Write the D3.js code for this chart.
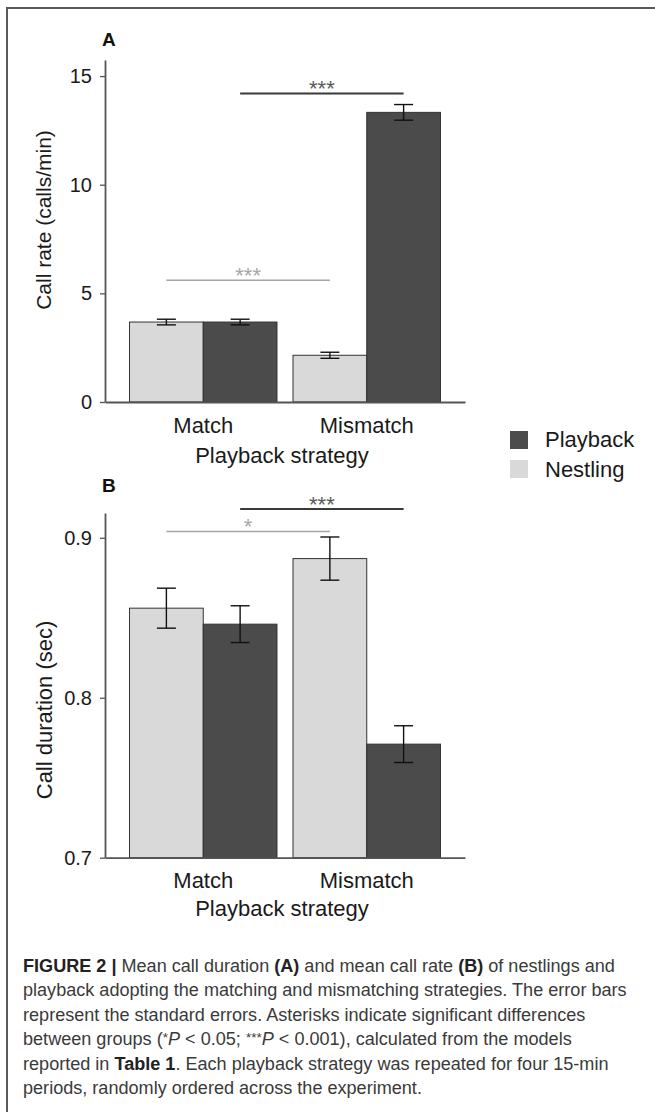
<!DOCTYPE html>
<html>
<head>
<meta charset="utf-8">
<script src="https://cdn.jsdelivr.net/npm/d3@7"></script>
<style>
  html, body { margin: 0; padding: 0; background: #fff; }
  svg { display: block; font-family: "Liberation Sans", Arial, sans-serif; }
</style>
</head>
<body>
<svg id="fig" width="655" height="1112"></svg>
<script>
// ---- data ----
const strategies = ["Match", "Mismatch"];
const sources = ["Nestling", "Playback"];
const legendOrder = ["Playback", "Nestling"];

// Panel A: call rate (calls/min), mean and standard error
const rateNestling = [3.68, 2.15];
const rateNestlingSE = [0.13, 0.14];
const ratePlayback = [3.68, 13.33];
const ratePlaybackSE = [0.13, 0.36];
const rateTicks = [0, 5, 10, 15];

// Panel B: call duration (sec), mean and standard error
const durNestling = [0.856, 0.887];
const durNestlingSE = [0.0125, 0.0135];
const durPlayback = [0.846, 0.771];
const durPlaybackSE = [0.0115, 0.0115];
const durTicks = [0.7, 0.8, 0.9];

// Significance brackets: which source is compared across strategies, label and height
const sigSourceA = ["Playback", "Nestling"];
const sigLevelA = [14.2, 5.6];
const sigLabelA = ["***", "***"];
const sigSourceB = ["Playback", "Nestling"];
const sigLevelB = [0.918, 0.904];
const sigLabelB = ["***", "*"];

// ---- drawing ----
const svg = d3.select("#fig");
svg.append("rect").attr("width", 655).attr("height", 1112).attr("fill", "#fff");

const fillOf = { Nestling: "#d9d9d9", Playback: "#4b4b4b" };
const sigColor = { Playback: "#3a3a3a", Nestling: "#a3a3a3" };
const sigText = { Playback: "#5a5a5a", Nestling: "#a8a8a8" };

// frame around the figure
svg.append("path")
  .attr("d", "M7,1112V8H655")
  .attr("fill", "none").attr("stroke", "#5a5a5a").attr("stroke-width", 2);

const axisX0 = 105, axisX1 = 465;

function panel(opts) {
  const g = svg.append("g");
  const x = d3.scaleBand().domain(strategies).range([axisX0, axisX1])
    .paddingInner(0.098).paddingOuter(0.15);
  const xs = d3.scaleBand().domain(sources).range([0, x.bandwidth()]);
  const y = d3.scaleLinear().domain(opts.domain).range(opts.range);

  const rows = [];
  strategies.forEach((s, i) => {
    rows.push({ strat: s, src: "Nestling", v: opts.nest[i], se: opts.nestSE[i] });
    rows.push({ strat: s, src: "Playback", v: opts.play[i], se: opts.playSE[i] });
  });

  // bars
  g.selectAll("rect.bar").data(rows).join("rect")
    .attr("class", "bar")
    .attr("x", d => x(d.strat) + xs(d.src))
    .attr("width", xs.bandwidth())
    .attr("y", d => y(d.v))
    .attr("height", d => y(opts.domain[0]) - y(d.v))
    .attr("fill", d => fillOf[d.src])
    .attr("stroke", "#333").attr("stroke-width", 1);

  // error bars
  const eb = g.selectAll("g.err").data(rows).join("g").attr("class", "err")
    .attr("stroke", "#111").attr("stroke-width", 1.4);
  const cx = d => x(d.strat) + xs(d.src) + xs.bandwidth() / 2;
  eb.append("line").attr("x1", cx).attr("x2", cx)
    .attr("y1", d => y(d.v - d.se)).attr("y2", d => y(d.v + d.se));
  eb.append("line").attr("x1", d => cx(d) - 9.5).attr("x2", d => cx(d) + 9.5)
    .attr("y1", d => y(d.v + d.se)).attr("y2", d => y(d.v + d.se));
  eb.append("line").attr("x1", d => cx(d) - 9.5).attr("x2", d => cx(d) + 9.5)
    .attr("y1", d => y(d.v - d.se)).attr("y2", d => y(d.v - d.se));

  // y axis
  const ya = g.append("g").attr("transform", `translate(${axisX0},0)`)
    .call(d3.axisLeft(y).tickValues(opts.ticks).tickSize(5).tickSizeOuter(0)
      .tickPadding(8).tickFormat(opts.fmt));
  ya.select(".domain").attr("stroke", "#555").attr("stroke-width", 1.8);
  ya.selectAll(".tick line").attr("stroke", "#555").attr("stroke-width", 1.3);
  ya.selectAll(".tick text").attr("fill", "#1a1a1a")
    .style("font-size", "20px").style("font-family", "Liberation Sans, Arial, sans-serif");

  // x axis (category labels, no tick marks)
  const base = y(opts.domain[0]);
  const xa = g.append("g").attr("transform", `translate(0,${base})`)
    .call(d3.axisBottom(x).tickSize(0).tickSizeOuter(0));
  xa.select(".domain").attr("stroke", "#555").attr("stroke-width", 1.8);
  xa.selectAll(".tick text").attr("fill", "#1a1a1a")
    .attr("y", opts.catOffset).attr("dy", 0)
    .style("font-size", "22px").style("font-family", "Liberation Sans, Arial, sans-serif");

  g.append("text").attr("x", (axisX0 + axisX1) / 2 - 3).attr("y", base + opts.titleOffset)
    .attr("text-anchor", "middle").attr("fill", "#1a1a1a")
    .style("font-size", "22px").text("Playback strategy");

  // y title
  g.append("text")
    .attr("transform", `translate(${opts.yTitleX},${opts.yTitleY}) rotate(-90)`)
    .attr("text-anchor", "middle").attr("fill", "#1a1a1a")
    .style("font-size", opts.yTitleSize).text(opts.yTitle);

  // panel letter
  g.append("text").attr("x", 102).attr("y", opts.letterY)
    .attr("fill", "#111").style("font-size", "19px").style("font-weight", "bold")
    .text(opts.letter);

  // significance brackets
  opts.sigSrc.forEach((src, i) => {
    const ctr = s => x(s) + xs(src) + xs.bandwidth() / 2;
    const x1 = ctr(strategies[0]), x2 = ctr(strategies[1]);
    const ly = y(opts.sigLevel[i]);
    g.append("line").attr("x1", x1).attr("x2", x2).attr("y1", ly).attr("y2", ly)
      .attr("stroke", sigColor[src]).attr("stroke-width", src === "Playback" ? 2 : 1.5);
    g.append("text").attr("x", (x1 + x2) / 2).attr("y", ly + 3)
      .attr("text-anchor", "middle").attr("fill", sigText[src])
      .style("font-size", "22px").text(opts.sigLabel[i]);
  });
}

panel({
  domain: [0, 15.74], range: [402, 60],
  nest: rateNestling, nestSE: rateNestlingSE,
  play: ratePlayback, playSE: ratePlaybackSE,
  ticks: rateTicks, fmt: d3.format("d"),
  catOffset: 31, titleOffset: 61,
  yTitle: "Call rate (calls/min)", yTitleX: 51, yTitleY: 220, yTitleSize: "21px",
  letter: "A", letterY: 46,
  sigSrc: sigSourceA, sigLevel: sigLevelA, sigLabel: sigLabelA
});

panel({
  domain: [0.7, 0.9155], range: [857.7, 513],
  nest: durNestling, nestSE: durNestlingSE,
  play: durPlayback, playSE: durPlaybackSE,
  ticks: durTicks, fmt: d3.format(".1f"),
  catOffset: 30, titleOffset: 58,
  yTitle: "Call duration (sec)", yTitleX: 52, yTitleY: 710, yTitleSize: "22px",
  letter: "B", letterY: 492,
  sigSrc: sigSourceB, sigLevel: sigLevelB, sigLabel: sigLabelB
});

// legend
const lg = svg.append("g");
legendOrder.forEach((k, i) => {
  lg.append("rect").attr("x", 510).attr("y", 431 + i * 29).attr("width", 18).attr("height", 18)
    .attr("fill", fillOf[k]);
  lg.append("text").attr("x", 545).attr("y", 447 + i * 30).attr("fill", "#1a1a1a")
    .style("font-size", "22px").text(k);
});

// caption
const captionLines = [
  [["FIGURE 2 | ", "b"], ["Mean call duration ", ""], ["(A)", "b"], [" and mean call rate ", ""], ["(B)", "b"], [" of nestlings and", ""]],
  [["playback adopting the matching and mismatching strategies. The error bars", ""]],
  [["represent the standard errors. Asterisks indicate significant differences", ""]],
  [["between groups (", ""], ["*", "s"], ["P", "i"], [" < 0.05; ", ""], ["***", "s"], ["P", "i"], [" < 0.001), calculated from the models", ""]],
  [["reported in ", ""], ["Table 1", "b"], [". Each playback strategy was repeated for four 15-min", ""]],
  [["periods, randomly ordered across the experiment.", ""]]
];

const cap = svg.append("g").attr("fill", "#3a3a3a");
const capTexts = captionLines.map((line, i) => {
  const t = cap.append("text").attr("x", 23).attr("y", 972 + i * 24.4).style("font-size", "16px");
  line.forEach(([str, st]) => {
    const ts = t.append("tspan").text(str);
    if (st === "b") ts.style("font-weight", "bold").attr("fill", "#222");
    if (st === "i") ts.style("font-style", "italic");
    if (st === "s") ts.classed("sup", true);
  });
  return t;
});
// fit the caption block to its column width (second line spans the full measure)
const measured = capTexts[1].node().getComputedTextLength();
const fs = 16 * 604 / measured;
capTexts.forEach(t => {
  t.style("font-size", fs + "px");
  t.selectAll("tspan.sup").style("font-size", (fs * 0.75) + "px").attr("dy", -3);
  // return to the line's baseline after each raised asterisk run
  t.selectAll("tspan.sup").each(function () {
    const next = this.nextSibling;
    if (next) d3.select(next).attr("dy", 3);
  });
});
</script>
</body>
</html>
